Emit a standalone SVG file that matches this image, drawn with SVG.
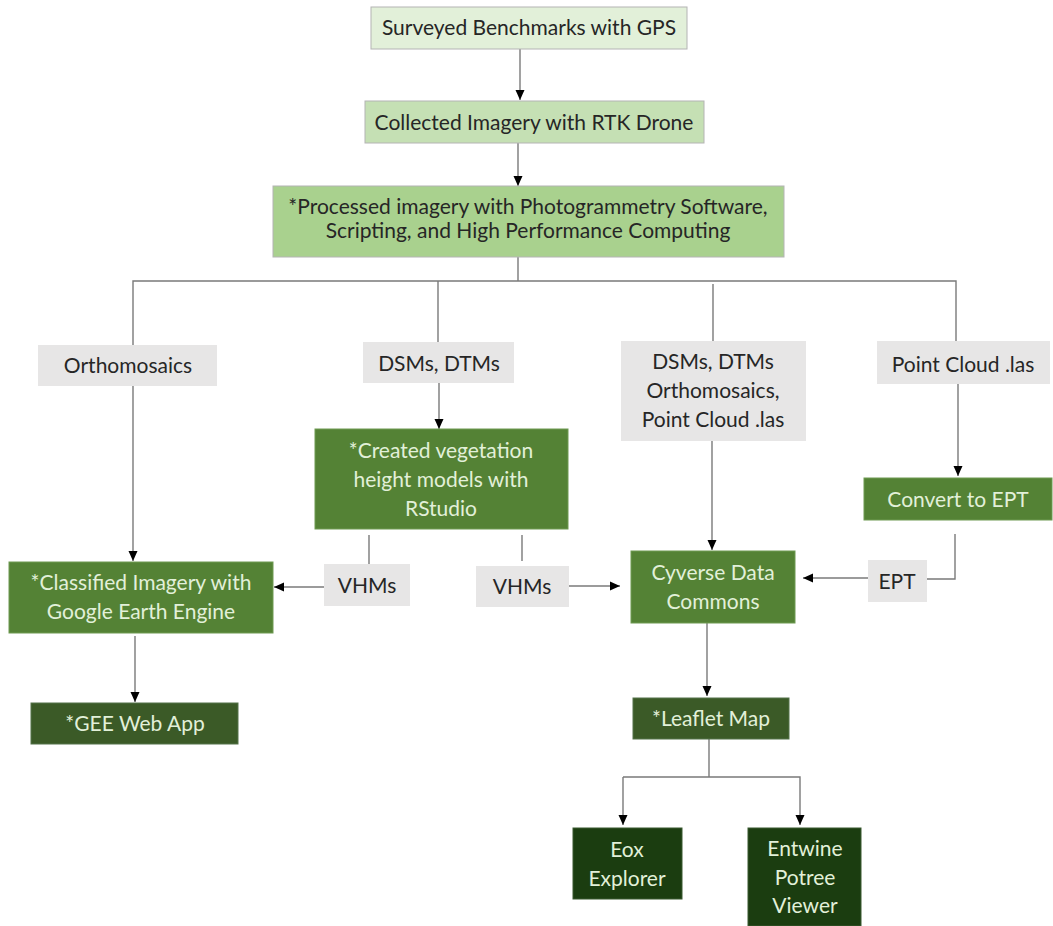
<svg xmlns="http://www.w3.org/2000/svg" width="1053" height="926" viewBox="0 0 1053 926">
<style>
text{font-family:Lato,"Open Sans","Liberation Sans",sans-serif;font-size:21px;text-anchor:middle}
.dk{fill:#262626}
.lt{fill:#e2f0d9}
.g1{fill:#e2f0d9;stroke:#b4b4b4;stroke-width:1}
.g2{fill:#c5e0b4;stroke:#b4b4b4;stroke-width:1}
.g3{fill:#a9d18e;stroke:#b4b4b4;stroke-width:1}
.gr{fill:#e7e6e6}
.mg{fill:#548235;stroke:#6e9a52;stroke-width:1}
.dg{fill:#3b5a27;stroke:#55724a;stroke-width:1}
.vg{fill:#1b3d10;stroke:#3a5a30;stroke-width:1}
.c{fill:none;stroke:#7a7a7a;stroke-width:1.4}
.a{marker-end:url(#ah)}
</style>
<defs>
<marker id="ah" markerUnits="userSpaceOnUse" markerWidth="10" markerHeight="10" viewBox="0 0 10 10" refX="10" refY="5" orient="auto">
<path d="M0,0.5 L10,5 L0,9.5 Z" fill="#000"/>
</marker>
</defs>
<g id="connectors">
<line class="c a" x1="520" y1="49" x2="520" y2="100"/>
<line class="c a" x1="518" y1="143" x2="518" y2="186"/>
<polyline class="c" points="518,257 518,281"/>
<polyline class="c" points="133,345 133,281 956,281 956,341"/>
<line class="c" x1="438" y1="281" x2="438" y2="342"/>
<line class="c" x1="713" y1="284" x2="713" y2="341"/>
<line class="c a" x1="133" y1="386" x2="133" y2="561"/>
<line class="c a" x1="439" y1="383" x2="439" y2="429"/>
<line class="c" x1="369" y1="535" x2="369" y2="564"/>
<line class="c a" x1="324" y1="587" x2="274" y2="587"/>
<line class="c" x1="522" y1="535" x2="522" y2="561"/>
<line class="c a" x1="569" y1="586" x2="620" y2="586"/>
<line class="c a" x1="712" y1="441" x2="712" y2="550"/>
<line class="c a" x1="958" y1="384" x2="958" y2="476"/>
<polyline class="c" points="955,534 955,579 927,579"/>
<line class="c a" x1="868" y1="578" x2="803" y2="578"/>
<line class="c a" x1="135" y1="636" x2="135" y2="702"/>
<line class="c a" x1="707" y1="623" x2="707" y2="696"/>
<polyline class="c" points="709,739 709,777"/>
<polyline class="c a" points="623,777 800,777 800,825"/>
<polyline class="c a" points="623,777 623,825"/>
</g>
<g id="surveyed"><rect class="g1" x="371" y="7" width="316" height="42"/><text class="dk" x="529" y="35">Surveyed Benchmarks with GPS</text></g>
<g id="collected"><rect class="g2" x="365" y="101" width="339" height="42"/><text class="dk" x="534" y="130">Collected Imagery with RTK Drone</text></g>
<g id="processed"><rect class="g3" x="273" y="186" width="511" height="71"/><text class="dk" x="528" y="214">*Processed imagery with Photogrammetry Software,</text><text class="dk" x="528" y="238">Scripting, and High Performance Computing</text></g>
<g id="orthomosaics"><rect class="gr" x="38" y="345" width="179" height="41"/><text class="dk" x="128" y="373">Orthomosaics</text></g>
<g id="dsms"><rect class="gr" x="363" y="342" width="151" height="41"/><text class="dk" x="439" y="371">DSMs, DTMs</text></g>
<g id="combined"><rect class="gr" x="621" y="341" width="185" height="100"/><text class="dk" x="713" y="369">DSMs, DTMs</text><text class="dk" x="713" y="398">Orthomosaics,</text><text class="dk" x="713" y="427">Point Cloud .las</text></g>
<g id="pointcloud"><rect class="gr" x="877" y="341" width="173" height="43"/><text class="dk" x="963" y="372">Point Cloud .las</text></g>
<g id="vegetation"><rect class="mg" x="315" y="429" width="253" height="100"/><text class="lt" x="441" y="458">*Created vegetation</text><text class="lt" x="441" y="487">height models with</text><text class="lt" x="441" y="516">RStudio</text></g>
<g id="convert"><rect class="mg" x="864" y="478" width="188" height="42"/><text class="lt" x="958" y="507">Convert to EPT</text></g>
<g id="vhms1"><rect class="gr" x="324" y="564" width="86" height="42"/><text class="dk" x="367" y="593">VHMs</text></g>
<g id="vhms2"><rect class="gr" x="476" y="566" width="93" height="41"/><text class="dk" x="522" y="594">VHMs</text></g>
<g id="ept"><rect class="gr" x="868" y="560" width="59" height="42"/><text class="dk" x="897" y="589">EPT</text></g>
<g id="classified"><rect class="mg" x="9" y="562" width="264" height="71"/><text class="lt" x="141" y="590">*Classified Imagery with</text><text class="lt" x="141" y="619">Google Earth Engine</text></g>
<g id="cyverse"><rect class="mg" x="631" y="551" width="164" height="72"/><text class="lt" x="713" y="580">Cyverse Data</text><text class="lt" x="713" y="609">Commons</text></g>
<g id="gee"><rect class="dg" x="31" y="703" width="207" height="41"/><text class="lt" x="135" y="731">*GEE Web App</text></g>
<g id="leaflet"><rect class="dg" x="633" y="698" width="156" height="41"/><text class="lt" x="711" y="726">*Leaflet Map</text></g>
<g id="eox"><rect class="vg" x="573" y="828" width="109" height="71"/><text class="lt" x="627" y="857">Eox</text><text class="lt" x="627" y="886">Explorer</text></g>
<g id="entwine"><rect class="vg" x="748" y="828" width="113" height="98"/><text class="lt" x="805" y="856">Entwine</text><text class="lt" x="805" y="885">Potree</text><text class="lt" x="805" y="913">Viewer</text></g>
</svg>
